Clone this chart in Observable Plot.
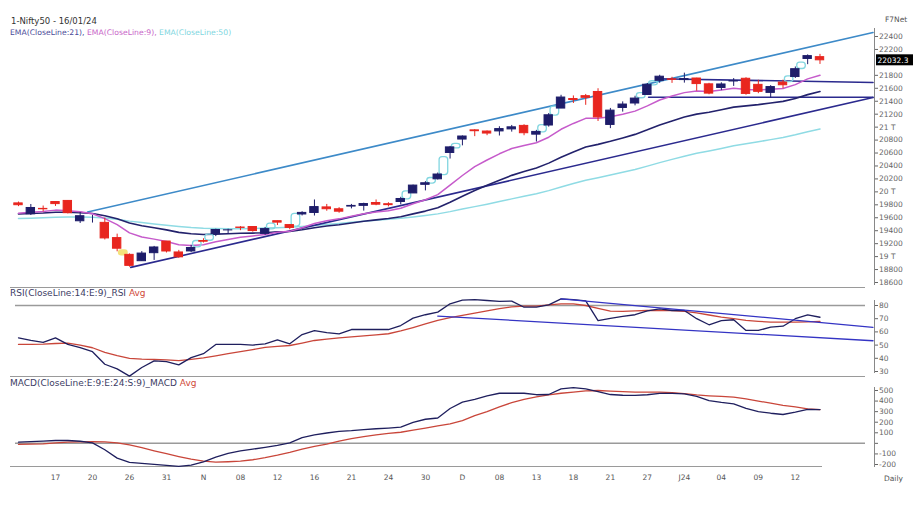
<!DOCTYPE html>
<html><head><meta charset="utf-8">
<script src="https://cdn.jsdelivr.net/npm/d3@7"></script>
<script src="https://cdn.jsdelivr.net/npm/@observablehq/plot@0.6"></script>
<style>
html,body{margin:0;padding:0;background:#fff;overflow:hidden;}
#wrap{position:relative;width:920px;height:507px;font-family:"DejaVu Sans",Verdana,sans-serif;}
.panel{position:absolute;left:0;}
.lbl{position:absolute;font-size:7.5px;white-space:nowrap;line-height:1;color:#333;}
.sep{position:absolute;left:10px;height:0;border-top:1.5px solid #9a9a9a;}
</style></head>
<body><div id="wrap">
<div class="sep" style="top:287px;width:855px"></div>
<div class="sep" style="top:376px;width:855px"></div>
<div class="sep" style="top:466px;width:812px"></div>
</div>
<script>
// ---- data ----
const days = ["12 Oct","13 Oct","16 Oct","17 Oct","18 Oct","19 Oct","20 Oct","23 Oct","25 Oct","26 Oct","27 Oct","30 Oct","31 Oct",
"01 Nov","02 Nov","03 Nov","06 Nov","07 Nov","08 Nov","09 Nov","10 Nov","12 Nov","13 Nov","15 Nov","16 Nov","17 Nov","20 Nov","21 Nov","22 Nov","23 Nov","24 Nov","28 Nov","29 Nov","30 Nov",
"01 Dec","04 Dec","05 Dec","06 Dec","07 Dec","08 Dec","11 Dec","12 Dec","13 Dec","14 Dec","15 Dec","18 Dec","19 Dec","20 Dec","21 Dec","22 Dec","26 Dec","27 Dec","28 Dec","29 Dec",
"01 Jan","02 Jan","03 Jan","04 Jan","05 Jan","08 Jan","09 Jan","10 Jan","11 Jan","12 Jan","15 Jan","16 Jan"];
const open = [19822,19654,19737,19843,19860,19546,19542,19521,19286,19027,18929,19053,19233,
19064,19080,19241,19346,19405,19449,19457,19351,19547,19487,19651,19674,19760,19731,19773,19784,19828,19809,19844,19976,20109,
20194,20601,20808,20950,20932,20934,20965,21019,20884,21025,21287,21434,21478,21543,21034,21296,21365,21497,21715,21738,
21727,21751,21661,21605,21705,21747,21653,21529,21688,21774,22053,22081];
const high = [19843,19805,19781,19849,19862,19681,19636,19593,19347,19041,19077,19158,19233,
19096,19175,19276,19423,19423,19464,19464,19451,19548,19495,19693,19875,19806,19756,19806,19825,19875,19832,19916,20105,20158,
20291,20702,20864,20961,20941,21006,21026,21037,20950,21210,21492,21482,21505,21593,21289,21390,21477,21675,21801,21770,
21834,21755,21677,21685,21750,21763,21724,21641,21726,21929,22116,22124];
const low = [19772,19635,19691,19775,19659,19512,19518,19257,19074,18837,18927,18941,19056,
18974,19064,19210,19309,19355,19401,19378,19329,19480,19414,19628,19627,19701,19670,19737,19703,19786,19768,19800,19976,20015,
20183,20507,20711,20853,20868,20863,20923,20867,20770,21000,21287,21365,21337,21087,20977,21232,21329,21495,21678,21676,
21680,21555,21500,21564,21629,21493,21517,21449,21593,21752,21965,21969];
const close = [19794,19751,19731,19811,19671,19624,19542,19281,19122,18857,19047,19141,19079,
18989,19133,19230,19411,19406,19443,19395,19425,19525,19443,19675,19765,19732,19694,19783,19812,19802,19795,19890,20097,20133,
20268,20687,20855,20937,20901,20970,20997,20906,20926,21183,21457,21419,21453,21150,21255,21349,21441,21655,21779,21731,
21742,21665,21518,21659,21711,21513,21545,21619,21647,21895,22097,22032.3];
const ema9 = [19670,19686,19695,19718,19709,19692,19662,19586,19493,19366,19302,19270,19232,
19183,19173,19184,19229,19264,19300,19319,19340,19377,19390,19447,19511,19555,19583,19623,19661,19689,19710,19746,19816,19879,
19957,20103,20253,20390,20492,20588,20670,20717,20759,20844,20967,21057,21136,21139,21162,21199,21247,21329,21419,21481,
21533,21559,21551,21573,21601,21583,21575,21584,21597,21657,21745,21802];
const ema21 = [19660,19668,19674,19686,19685,19679,19667,19632,19586,19520,19477,19446,19413,
19374,19352,19341,19347,19352,19360,19363,19369,19383,19388,19414,19446,19472,19492,19518,19545,19568,19589,19616,19660,19703,
19754,19839,19931,20022,20102,20181,20255,20314,20370,20444,20536,20616,20692,20734,20781,20833,20888,20958,21033,21096,
21155,21201,21230,21269,21309,21328,21348,21373,21398,21443,21502,21550];
const ema50 = [19588,19594,19599,19607,19610,19611,19608,19595,19576,19548,19525,19505,19485,
19465,19448,19438,19434,19432,19432,19434,19440,19446,19452,19466,19482,19497,19512,19530,19548,19562,19576,19592,19613,19635,
19660,19695,19735,19772,19810,19850,19892,19932,19971,20019,20075,20128,20180,20218,20259,20302,20347,20398,20452,20502,
20551,20595,20631,20671,20712,20743,20774,20807,20840,20881,20929,20972];
const rsi = [55.5,53.5,52,55.5,50.5,48,45,35.5,32,26.5,33,38,37.5,
35,40.5,43.5,50.5,50.5,50.5,50,51,54,51,58,61,59.5,58.5,61.8,61.8,61.8,61.8,64.8,70.4,73,
75,81.3,84,84.5,83.8,83.2,83.3,78.7,78.7,80.5,85,84.5,83.5,68.6,70.2,71.8,73,76,77.5,76.2,
76.2,70,65.4,68.6,69.2,61.1,61.1,63.6,64.3,70,72.9,71.1];
const rsiAvg = [50.5,50.5,50.7,51.2,51.5,50,48,44.5,42,40,39.4,39.1,38.8,
38.3,39.2,40.3,41.8,43.5,45,46.6,48.3,49,49.7,51.5,53.5,54.5,55.5,56.2,57,57.8,58.6,60.8,63.3,66,
68.8,70.8,72.5,74.2,76,77.6,79,79.5,79.5,80.4,81.3,81.3,80,77.8,75.8,75.6,75.9,76.2,76.2,76.2,
75.6,74.4,72.8,71.2,70,68.8,68,67.4,67.4,67.4,67.6,67.9];
const macd = [11,17,22,27,27,20,5,-60,-140,-180,-190,-198,-208,
-218,-205,-175,-130,-95,-72,-55,-38,-20,5,55,80,98,113,120,130,138,145,153,198,228,
240,330,390,415,450,474,474,474,460,462,515,528,515,490,462,455,453,460,472,472,
468,445,405,388,374,330,300,285,273,295,322,320];
const macdAvg = [-10,-8,-5,5,11,14,17,14,5,-15,-40,-70,-98,
-125,-150,-169,-177,-174,-169,-155,-135,-112,-85,-55,-28,-8,22,45,63,80,95,105,125,145,
165,185,215,262,300,345,385,415,440,458,474,484,496,500,494,490,485,484,484,480,
470,458,450,444,437,420,400,380,360,345,327,320];
// trendlines drawn on the chart (index, value)
const priceChannelTop = [{i:5.6, v:19690}, {i:69.3, v:22462}];
const priceSupport = [{i:9.1, v:18834}, {i:69.3, v:21457}];
const rangeTop = [{i:51.8, v:21747}, {i:69.3, v:21690}];
const rangeBottom = [{i:51.1, v:21462}, {i:69.3, v:21462}];
const rsiTrendTop = [{i:44, v:85}, {i:69.3, v:63.5}];
const rsiTrendBottom = [{i:34, v:72}, {i:69.3, v:53.3}];
// axis ticks
const priceTicks = [18600,18800,19000,19200,19400,19600,19800,20000,20200,20400,20600,20800,21000,21200,21400,21600,21800,22200,22400];
const rsiTicks = [30,40,50,60,70,80];
const macdTicks = [-200,-100,0,100,200,300,400,500];
const xTickIdx = [3,6,9,12,15,18,21,24,27,30,33,36,39,42,45,48,51,54,57,60,63];
const xTickLabels = ["17","20","26","31","N","08","12","16","21","24","30","D","08","13","18","21","27","J24","04","09","12"];

// ---- build ----
const rows = days.map((d, i) => ({i, day: d, open: open[i], high: high[i], low: low[i], close: close[i],
  ema9: ema9[i], ema21: ema21[i], ema50: ema50[i], rsi: rsi[i], rsiAvg: rsiAvg[i], macd: macd[i], macdAvg: macdAvg[i]}));
const gapsUp = [], gapsDown = [];
for (let i = 1; i < rows.length; i++) {
  if (low[i] > high[i-1]) gapsUp.push({i: i - 0.5, lo: high[i-1], hi: low[i]});
  if (high[i] < low[i-1]) gapsDown.push({i: i - 0.5, lo: high[i], hi: low[i-1]});
}
const labelMap = new Map(xTickIdx.map((d, k) => [d, xTickLabels[k]]));
const UP = "#1e1d6a", DOWN = "#e8261f";
const cc = d => d.close >= d.open ? UP : DOWN;
const XL = -1.46, XR = 69.42;
const lastClose = close[close.length - 1];

const base = (h, mt, mb) => ({
  width: 920, height: h, marginLeft: 0, marginRight: 46, marginTop: mt, marginBottom: mb,
  color: {type: "identity"},
  style: {background: "transparent", fontFamily: "'DejaVu Sans', Verdana, sans-serif", fontSize: "7.5px", overflow: "visible"}
});
const axisCol = "#666";

const pricePlot = Plot.plot({
  ...base(263, 12, 5),
  x: {domain: [XL, XR], axis: null},
  y: {domain: [18600, 22400], axis: null},
  marks: [
    Plot.rect(gapsDown, {x1: d => d.i - 0.4, x2: d => d.i + 0.4, y1: "lo", y2: "hi", fill: "#f4e27c", rx: 3, insetTop: -2, insetBottom: -2}),
    Plot.line(priceChannelTop, {x: "i", y: "v", stroke: "#3d8ac8", strokeWidth: 1.6}),
    Plot.line(rows, {x: "i", y: "ema50", stroke: "#8fdbe4", strokeWidth: 1.5}),
    Plot.line(priceSupport, {x: "i", y: "v", stroke: "#2b2a8e", strokeWidth: 1.6}),
    Plot.line(rangeTop, {x: "i", y: "v", stroke: "#2b2a8e", strokeWidth: 1.6}),
    Plot.line(rangeBottom, {x: "i", y: "v", stroke: "#2b2a8e", strokeWidth: 1.6}),
    Plot.line(rows, {x: "i", y: "ema21", stroke: "#23226c", strokeWidth: 1.6}),
    Plot.line(rows, {x: "i", y: "ema9", stroke: "#c65bcb", strokeWidth: 1.5}),
    Plot.rect(gapsUp, {x1: d => d.i - 0.35, x2: d => d.i + 0.35, y1: "lo", y2: "hi", fill: "none", stroke: "#82d6e0", strokeWidth: 1.3, rx: 3, insetTop: -2, insetBottom: -2}),
    Plot.ruleX(rows, {x: "i", y1: "low", y2: "high", stroke: cc, strokeWidth: 1}),
    Plot.rect(rows, {x1: d => d.i - 0.34, x2: d => d.i + 0.34, y1: "open", y2: "close", fill: cc, stroke: cc, strokeWidth: 1}),
    Plot.ruleX([XR], {stroke: "#888", insetTop: -8, insetBottom: -3}),
    Plot.axisY({ticks: priceTicks, anchor: "right", tickSize: 3, tickPadding: 1.5, color: axisCol,
      tickFormat: v => v % 1000 === 0 ? `${v / 1000} T` : String(v)}),
    Plot.rect([lastClose], {x1: XR, x2: XR, y1: d => d, y2: d => d, fill: "black",
      insetLeft: 2, insetRight: -39, insetTop: -5.5, insetBottom: -5.5}),
    Plot.text([lastClose], {x: XR, y: d => d, text: d => d.toFixed(1), dx: 3, textAnchor: "start", fill: "white", fontSize: 7.5})
  ]
});

const rsiPlot = Plot.plot({
  ...base(90, 18, 6),
  x: {domain: [XL, XR], axis: null},
  y: {domain: [30, 80], axis: null},
  marks: [
    Plot.ruleY([80], {stroke: "#9a9a9a", strokeWidth: 1.5, insetLeft: 15, insetRight: 9}),
    Plot.line(rows, {x: "i", y: "rsiAvg", stroke: "#c9463a", strokeWidth: 1.3}),
    Plot.line(rows, {x: "i", y: "rsi", stroke: "#1f1f5e", strokeWidth: 1.3}),
    Plot.line(rsiTrendTop, {x: "i", y: "v", stroke: "#3434c4", strokeWidth: 1.3}),
    Plot.line(rsiTrendBottom, {x: "i", y: "v", stroke: "#3434c4", strokeWidth: 1.3}),
    Plot.ruleX([XR], {stroke: "#888", insetTop: -5, insetBottom: -2}),
    Plot.axisY({ticks: rsiTicks, anchor: "right", tickSize: 3, tickPadding: 1.5, color: axisCol, tickFormat: v => String(v)})
  ]
});

const macdPlot = Plot.plot({
  ...base(113, 13, 26),
  x: {domain: [XL, XR], label: null},
  y: {domain: [-200, 500], axis: null},
  marks: [
    Plot.ruleY([0], {stroke: "#9a9a9a", strokeWidth: 1.5, insetLeft: 15, insetRight: 9}),
    Plot.line(rows, {x: "i", y: "macdAvg", stroke: "#c9463a", strokeWidth: 1.3}),
    Plot.line(rows, {x: "i", y: "macd", stroke: "#1f1f5e", strokeWidth: 1.3}),
    Plot.ruleX([XR], {stroke: "#888", insetTop: -3, insetBottom: -3}),
    Plot.axisY({ticks: macdTicks, anchor: "right", tickSize: 3, tickPadding: 1.5, color: axisCol,
      tickFormat: v => v === 0 ? "" : String(v)}),
    Plot.axisX({ticks: xTickIdx, anchor: "bottom", tickSize: 0, tickPadding: 10, color: "#555", label: null,
      tickFormat: d => labelMap.get(d)})
  ]
});

const wrap = document.getElementById("wrap");
function place(node, top) { node.classList.add("panel"); node.style.top = top + "px"; node.style.position = "absolute"; wrap.appendChild(node); }
place(pricePlot, 24);
place(rsiPlot, 287);
place(macdPlot, 377);

function label(html, left, top, color, size) {
  const d = document.createElement("div");
  d.className = "lbl"; d.style.left = left + "px"; d.style.top = top + "px";
  if (color) d.style.color = color;
  if (size) d.style.fontSize = size + "px";
  d.innerHTML = html; wrap.appendChild(d);
}
label("1-Nifty50 - 16/01/24", 11, 16.5, "#333", 8.5);
label('<span style="color:#4a4a98">EMA(CloseLine:21), </span><span style="color:#c865c8">EMA(CloseLine:9), </span><span style="color:#7fd6e0">EMA(CloseLine:50)</span>', 10, 29, null, 7.7);
label("F7Net", 885, 16, "#555", 7.5);
label('<span style="color:#3c3c64">RSI(CloseLine:14:E:9)_RSI</span> <span style="color:#d04a3a">Avg</span>', 10, 288.5, null, 9);
label('<span style="color:#3c3c64">MACD(CloseLine:E:9:E:24:S:9)_MACD</span> <span style="color:#d04a3a">Avg</span>', 10, 378.5, null, 9);
label("Daily", 884, 475, "#555", 7.5);
</script>
</body></html>
